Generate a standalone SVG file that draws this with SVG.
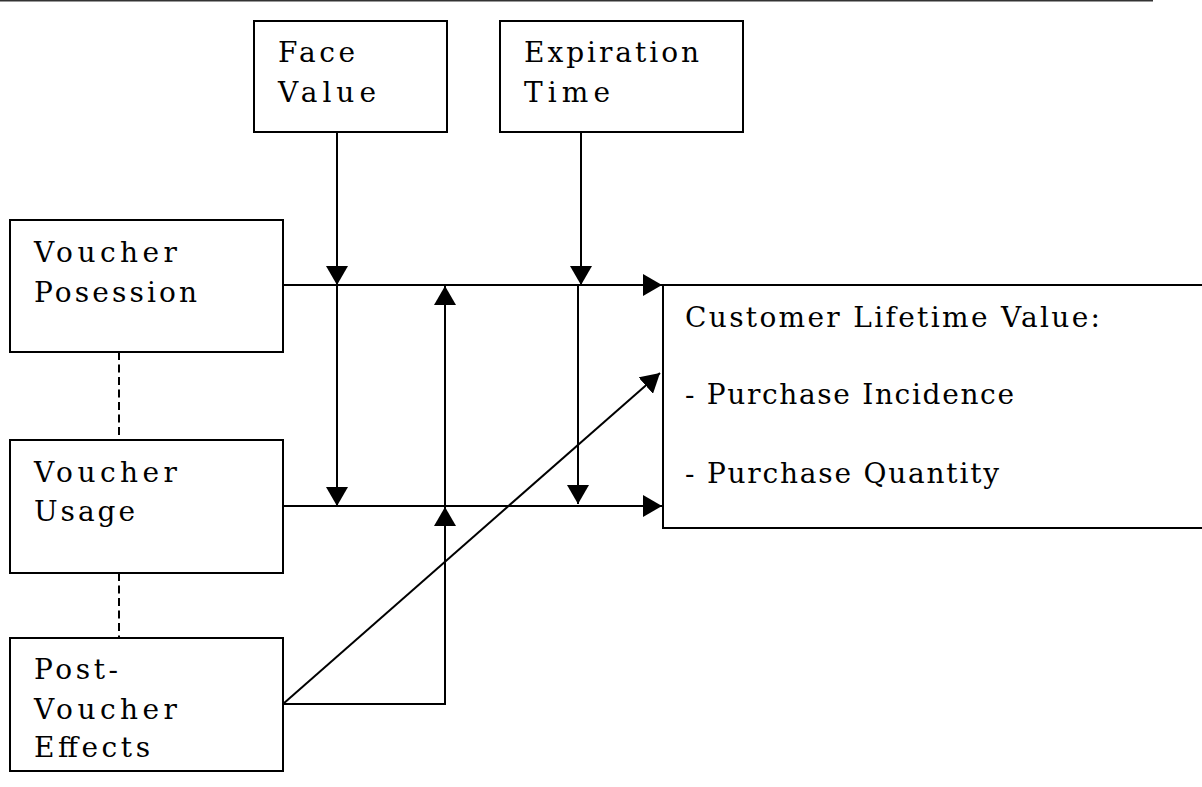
<svg xmlns="http://www.w3.org/2000/svg" width="1202" height="787" viewBox="0 0 1202 787">
  <style>
    .box { fill: #fff; stroke: #000; stroke-width: 2; }
    text { font-family: 'DejaVu Serif', 'Liberation Serif', 'Times New Roman', serif; font-size: 28px; fill: #000; }
    .wire { fill: none; stroke: #000; stroke-width: 2; }
    .arrow { marker-end: url(#ah); }
    .dash { fill: none; stroke: #000; stroke-width: 2; stroke-dasharray: 8 4.5; }
  </style>
  <defs>
    <marker id="ah" viewBox="0 0 19 22" refX="19" refY="11" markerWidth="19" markerHeight="22" orient="auto" markerUnits="userSpaceOnUse">
      <path d="M0,0 L19,11 L0,22 Z" fill="#000"/>
    </marker>
  </defs>
  <rect width="1202" height="787" fill="#fff"/>

  <!-- page rule at the top -->
  <line x1="0" y1="0.75" x2="1153" y2="0.75" stroke="#333" stroke-width="1.5"/>

  <g id="connectors">
    <!-- dashed links between the voucher stages -->
    <line class="dash" x1="119" y1="352" x2="119" y2="440"/>
    <line class="dash" x1="119" y1="573" x2="119" y2="638"/>
    <!-- main effects into customer lifetime value -->
    <line class="wire arrow" x1="283" y1="285" x2="662" y2="285"/>
    <line class="wire arrow" x1="283" y1="506" x2="662" y2="506"/>
    <!-- face value moderation -->
    <line class="wire arrow" x1="337" y1="132" x2="337" y2="285"/>
    <line class="wire arrow" x1="337" y1="285" x2="337" y2="506"/>
    <!-- expiration time moderation -->
    <line class="wire arrow" x1="581" y1="132" x2="581" y2="285"/>
    <line class="wire arrow" x1="578" y1="285" x2="578" y2="504"/>
    <!-- post-voucher effects -->
    <polyline class="wire" points="283,704 445,704 445,600"/>
    <line class="wire arrow" x1="445" y1="600" x2="445" y2="507"/>
    <line class="wire arrow" x1="445" y1="507" x2="445" y2="286"/>
    <line class="wire arrow" x1="283" y1="704" x2="660" y2="373"/>
  </g>

  <g id="face-value">
    <rect class="box" x="254" y="21" width="193" height="111"/>
    <text x="278" y="62" textLength="77" lengthAdjust="spacing">Face</text>
    <text x="278" y="102" textLength="98" lengthAdjust="spacing">Value</text>
  </g>

  <g id="expiration-time">
    <rect class="box" x="500" y="21" width="243" height="111"/>
    <text x="524" y="62" textLength="175" lengthAdjust="spacing">Expiration</text>
    <text x="524" y="102" textLength="86" lengthAdjust="spacing">Time</text>
  </g>

  <g id="voucher-posession">
    <rect class="box" x="10" y="220" width="273" height="132"/>
    <text x="34" y="262" textLength="143" lengthAdjust="spacing">Voucher</text>
    <text x="34" y="302" textLength="163" lengthAdjust="spacing">Posession</text>
  </g>

  <g id="voucher-usage">
    <rect class="box" x="10" y="440" width="273" height="133"/>
    <text x="34" y="482" textLength="143" lengthAdjust="spacing">Voucher</text>
    <text x="34" y="521" textLength="101" lengthAdjust="spacing">Usage</text>
  </g>

  <g id="post-voucher-effects">
    <rect class="box" x="10" y="638" width="273" height="133"/>
    <text x="34" y="679" textLength="84" lengthAdjust="spacing">Post-</text>
    <text x="34" y="719" textLength="143" lengthAdjust="spacing">Voucher</text>
    <text x="34" y="757" textLength="116" lengthAdjust="spacing">Effects</text>
  </g>

  <g id="customer-lifetime-value">
    <rect class="box" x="663" y="285" width="560" height="243"/>
    <text x="685" y="327" textLength="415" lengthAdjust="spacing">Customer Lifetime Value:</text>
    <text x="685" y="404" textLength="329" lengthAdjust="spacing">- Purchase Incidence</text>
    <text x="685" y="483" textLength="314" lengthAdjust="spacing">- Purchase Quantity</text>
  </g>
</svg>
